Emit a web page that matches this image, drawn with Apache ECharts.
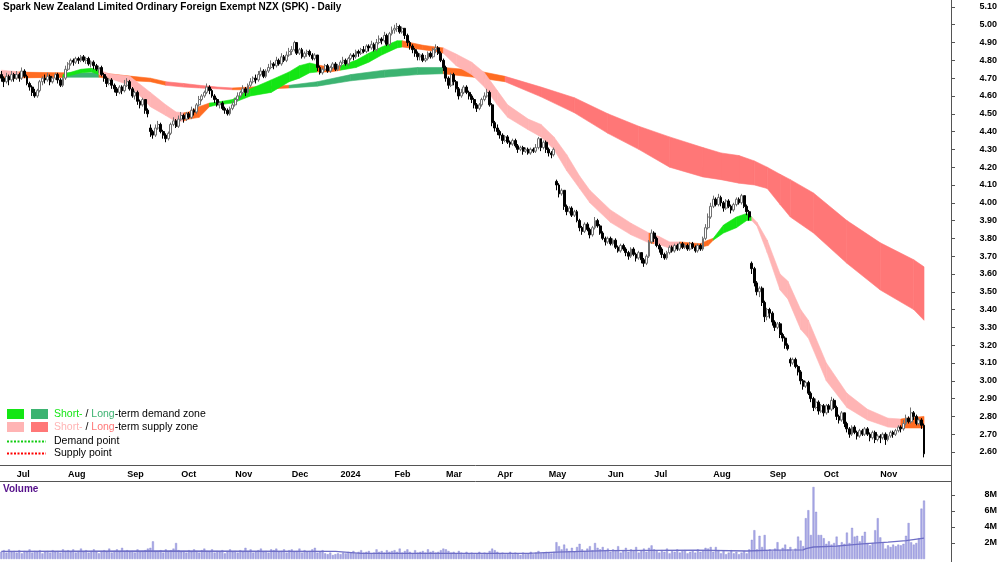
<!DOCTYPE html>
<html>
<head>
<meta charset="utf-8">
<title>Spark New Zealand (SPK) - Daily</title>
<script src="https://cdn.jsdelivr.net/npm/echarts@6/dist/echarts.min.js"></script>
<style>
  html, body { margin: 0; padding: 0; background: #fff; }
  #chart { width: 1000px; height: 562px; }
</style>
</head>
<body>
<div id="chart"></div>
<script>
// trading days (weekdays minus NZX holidays)
const firstDay = '2023-06-23';
const lastDay = '2024-11-26';
const holidays = ['2023-07-14', '2023-10-23', '2023-12-25', '2023-12-26', '2024-01-01', '2024-01-02',
  '2024-02-06', '2024-03-29', '2024-04-01', '2024-04-25', '2024-06-03', '2024-06-28', '2024-10-28'];
const padDays = 10; // empty room right of the last candle
const monthNames = ['2024', 'Feb', 'Mar', 'Apr', 'May', 'Jun', 'Jul', 'Aug', 'Sep', 'Oct', 'Nov', 'Dec'];

const priceTicks = [2.6, 2.7, 2.8, 2.9, 3.0, 3.1, 3.2, 3.3, 3.4, 3.5, 3.6, 3.7, 3.8, 3.9,
  4.0, 4.1, 4.2, 4.3, 4.4, 4.5, 4.6, 4.7, 4.8, 4.9, 5.0, 5.1];
const volumeTicks = [2, 4, 6, 8];

// candles, [open, close, low, high]
const jun23 = [[4.72,4.70,4.68,4.74],[4.70,4.68,4.65,4.71],[4.68,4.71,4.67,4.73],[4.71,4.69,4.66,4.72],[4.69,4.72,4.68,4.74],[4.72,4.70,4.68,4.73]];
const jul23 = [[4.70,4.72,4.69,4.74],[4.72,4.70,4.68,4.73],[4.70,4.74,4.69,4.76],[4.74,4.71,4.70,4.75],[4.71,4.67,4.66,4.72],
  [4.67,4.65,4.63,4.68],[4.65,4.62,4.60,4.66],[4.62,4.60,4.59,4.64],[4.60,4.63,4.59,4.64],[4.63,4.68,4.62,4.69],
  [4.68,4.70,4.66,4.71],[4.70,4.69,4.67,4.72],[4.69,4.71,4.68,4.73],[4.71,4.68,4.66,4.72],[4.68,4.70,4.67,4.71],
  [4.70,4.72,4.69,4.73],[4.72,4.69,4.67,4.73],[4.69,4.66,4.65,4.70],[4.66,4.70,4.65,4.71],[4.70,4.75,4.69,4.77]];
const aug23 = [[4.75,4.78,4.74,4.79],[4.78,4.80,4.77,4.81],[4.80,4.79,4.77,4.81],[4.79,4.81,4.78,4.82],[4.81,4.80,4.78,4.82],
  [4.80,4.82,4.79,4.83],[4.82,4.80,4.79,4.83],[4.80,4.81,4.78,4.82],[4.81,4.78,4.77,4.82],[4.78,4.79,4.76,4.80],
  [4.79,4.77,4.75,4.80],[4.77,4.75,4.74,4.78],[4.75,4.76,4.73,4.77],[4.76,4.72,4.71,4.77],[4.72,4.70,4.68,4.73],
  [4.70,4.67,4.65,4.71],[4.67,4.69,4.66,4.70],[4.69,4.66,4.64,4.70],[4.66,4.64,4.62,4.67],[4.64,4.62,4.60,4.65],
  [4.62,4.65,4.61,4.66],[4.65,4.63,4.61,4.66],[4.63,4.66,4.62,4.69]];
const sep23 = [[4.66,4.68,4.65,4.70],[4.68,4.64,4.63,4.69],[4.64,4.60,4.59,4.65],[4.60,4.62,4.58,4.63],[4.62,4.57,4.55,4.63],
  [4.57,4.55,4.53,4.58],[4.55,4.58,4.54,4.59],[4.58,4.52,4.50,4.58],[4.52,4.50,4.48,4.53],[4.42,4.40,4.37,4.44],
  [4.40,4.38,4.36,4.41],[4.38,4.42,4.37,4.44],[4.42,4.44,4.41,4.46],[4.44,4.40,4.39,4.45],[4.40,4.38,4.36,4.41],
  [4.38,4.36,4.34,4.39],[4.36,4.39,4.35,4.40],[4.39,4.44,4.38,4.45],[4.44,4.46,4.43,4.48],[4.46,4.43,4.42,4.47],
  [4.43,4.47,4.42,4.49]];
const oct23 = [[4.47,4.49,4.46,4.51],[4.49,4.47,4.45,4.50],[4.47,4.50,4.46,4.51],[4.50,4.48,4.47,4.51],[4.48,4.52,4.47,4.54],
  [4.52,4.51,4.49,4.53],[4.51,4.55,4.50,4.56],[4.55,4.58,4.54,4.60],[4.58,4.60,4.57,4.61],[4.60,4.62,4.59,4.63],
  [4.62,4.65,4.61,4.67],[4.65,4.63,4.61,4.66],[4.63,4.60,4.59,4.64],[4.60,4.58,4.56,4.61],[4.58,4.55,4.54,4.59],
  [4.55,4.56,4.53,4.57],[4.56,4.53,4.52,4.57],[4.53,4.52,4.50,4.54],[4.52,4.50,4.49,4.53],[4.50,4.53,4.49,4.54],
  [4.53,4.55,4.52,4.57]];
const nov23 = [[4.55,4.58,4.54,4.59],[4.58,4.60,4.57,4.62],[4.60,4.62,4.59,4.63],[4.62,4.64,4.61,4.66],[4.64,4.62,4.60,4.65],
  [4.62,4.66,4.61,4.67],[4.66,4.68,4.65,4.70],[4.68,4.70,4.67,4.71],[4.70,4.69,4.67,4.72],[4.69,4.72,4.68,4.74],
  [4.72,4.74,4.71,4.76],[4.74,4.71,4.70,4.75],[4.71,4.74,4.70,4.75],[4.74,4.76,4.73,4.78],[4.76,4.78,4.75,4.80],
  [4.78,4.77,4.75,4.79],[4.77,4.80,4.76,4.82],[4.80,4.78,4.77,4.81],[4.78,4.82,4.77,4.84],[4.82,4.80,4.79,4.83],
  [4.80,4.83,4.79,4.85],[4.83,4.85,4.82,4.87]];
const dec23 = [[4.85,4.86,4.83,4.88],[4.86,4.90,4.85,4.91],[4.90,4.84,4.83,4.90],[4.84,4.86,4.83,4.87],[4.86,4.82,4.81,4.87],
  [4.82,4.84,4.81,4.85],[4.84,4.85,4.82,4.86],[4.85,4.83,4.82,4.86],[4.83,4.81,4.80,4.84],[4.81,4.83,4.80,4.84],
  [4.83,4.76,4.74,4.83],[4.76,4.73,4.72,4.77],[4.73,4.75,4.72,4.76],[4.75,4.77,4.74,4.78],[4.77,4.74,4.73,4.78],
  [4.74,4.76,4.73,4.77],[4.76,4.78,4.75,4.79],[4.78,4.75,4.74,4.79],[4.75,4.77,4.74,4.78]];
const jan24 = [[4.77,4.79,4.76,4.80],[4.79,4.80,4.78,4.82],[4.80,4.78,4.77,4.81],[4.78,4.81,4.77,4.82],[4.81,4.83,4.80,4.84],
  [4.83,4.82,4.80,4.84],[4.82,4.85,4.81,4.86],[4.85,4.84,4.82,4.86],[4.84,4.86,4.83,4.87],[4.86,4.85,4.84,4.88],
  [4.85,4.88,4.84,4.89],[4.88,4.87,4.85,4.89],[4.87,4.89,4.86,4.91],[4.89,4.86,4.85,4.90],[4.86,4.90,4.85,4.92],
  [4.90,4.92,4.89,4.94],[4.92,4.91,4.89,4.93],[4.91,4.94,4.90,4.96],[4.94,4.89,4.88,4.95],[4.89,4.95,4.88,4.96],
  [4.95,4.97,4.94,4.99]];
const feb24 = [[4.97,4.98,4.95,5.00],[4.98,4.99,4.96,5.01],[4.99,4.96,4.95,5.00],[4.96,4.98,4.95,4.99],[4.98,4.94,4.92,4.98],
  [4.94,4.90,4.88,4.95],[4.90,4.88,4.86,4.91],[4.88,4.86,4.84,4.89],[4.86,4.84,4.82,4.87],[4.84,4.82,4.80,4.85],
  [4.82,4.83,4.80,4.84],[4.83,4.80,4.79,4.84],[4.80,4.81,4.79,4.83],[4.81,4.84,4.80,4.85],[4.84,4.82,4.81,4.85],
  [4.82,4.86,4.81,4.87],[4.86,4.87,4.84,4.89],[4.87,4.84,4.83,4.88],[4.84,4.80,4.79,4.85],[4.80,4.76,4.74,4.81]];
const mar24 = [[4.76,4.70,4.68,4.77],[4.70,4.66,4.64,4.71],[4.66,4.72,4.65,4.73],[4.72,4.68,4.66,4.73],[4.68,4.64,4.62,4.69],
  [4.64,4.60,4.58,4.65],[4.60,4.62,4.59,4.64],[4.62,4.65,4.61,4.66],[4.65,4.62,4.61,4.66],[4.62,4.60,4.58,4.63],
  [4.60,4.58,4.56,4.61],[4.58,4.55,4.53,4.59],[4.55,4.53,4.51,4.56],[4.53,4.55,4.52,4.56],[4.55,4.58,4.54,4.59],
  [4.58,4.60,4.57,4.62],[4.60,4.62,4.59,4.64],[4.62,4.55,4.54,4.63],[4.55,4.45,4.43,4.56],[4.45,4.42,4.40,4.46]];
const apr24 = [[4.42,4.40,4.38,4.44],[4.40,4.38,4.36,4.41],[4.38,4.35,4.33,4.39],[4.35,4.37,4.34,4.38],[4.37,4.34,4.33,4.38],
  [4.34,4.33,4.31,4.35],[4.33,4.35,4.32,4.36],[4.35,4.32,4.31,4.36],[4.32,4.30,4.28,4.33],[4.30,4.31,4.29,4.32],
  [4.31,4.29,4.27,4.32],[4.29,4.30,4.28,4.31],[4.30,4.28,4.27,4.31],[4.28,4.30,4.27,4.31],[4.30,4.29,4.28,4.31],
  [4.29,4.31,4.28,4.33],[4.31,4.36,4.30,4.37],[4.36,4.31,4.29,4.36],[4.31,4.34,4.30,4.35],[4.34,4.30,4.28,4.35]];
const may24 = [[4.30,4.28,4.26,4.31],[4.28,4.27,4.25,4.29],[4.27,4.30,4.26,4.31],[4.12,4.10,4.07,4.13],[4.10,4.05,4.03,4.11],
  [4.05,4.07,4.04,4.08],[4.07,3.98,3.96,4.07],[3.98,3.95,3.93,3.99],[3.95,3.97,3.94,3.98],[3.97,3.93,3.92,3.98],
  [3.93,3.95,3.92,3.96],[3.95,3.90,3.89,3.96],[3.90,3.86,3.84,3.91],[3.86,3.84,3.82,3.87],[3.84,3.88,3.83,3.89],
  [3.88,3.85,3.84,3.89],[3.85,3.82,3.80,3.86],[3.82,3.86,3.81,3.87],[3.86,3.90,3.85,3.92],[3.90,3.87,3.86,3.91],
  [3.87,3.83,3.82,3.88],[3.83,3.80,3.79,3.84],[3.80,3.78,3.76,3.81]];
const jun24 = [[3.78,3.80,3.77,3.81],[3.80,3.77,3.76,3.81],[3.77,3.79,3.76,3.80],[3.79,3.75,3.74,3.80],[3.75,3.73,3.72,3.76],
  [3.73,3.76,3.72,3.77],[3.76,3.74,3.73,3.77],[3.74,3.72,3.70,3.75],[3.72,3.70,3.68,3.73],[3.70,3.74,3.69,3.75],
  [3.74,3.71,3.70,3.75],[3.71,3.69,3.67,3.72],[3.69,3.72,3.68,3.73],[3.72,3.68,3.66,3.72],[3.68,3.66,3.64,3.69],
  [3.66,3.70,3.65,3.71],[3.70,3.78,3.69,3.79],[3.78,3.83,3.77,3.85]];
const jul24 = [[3.83,3.80,3.78,3.84],[3.80,3.76,3.75,3.81],[3.76,3.74,3.72,3.77],[3.74,3.71,3.69,3.75],[3.71,3.69,3.68,3.72],
  [3.69,3.72,3.68,3.73],[3.72,3.75,3.71,3.76],[3.75,3.73,3.72,3.76],[3.73,3.76,3.72,3.77],[3.76,3.74,3.73,3.77],
  [3.74,3.77,3.73,3.78],[3.77,3.75,3.74,3.78],[3.75,3.76,3.74,3.77],[3.76,3.74,3.73,3.77],[3.74,3.77,3.73,3.78],
  [3.77,3.75,3.74,3.78],[3.75,3.73,3.72,3.76],[3.73,3.76,3.72,3.77],[3.76,3.74,3.73,3.77],[3.74,3.80,3.73,3.81],
  [3.80,3.86,3.79,3.88],[3.86,3.92,3.85,3.94],[3.92,3.98,3.91,4.00]];
const aug24 = [[3.98,4.02,3.97,4.04],[4.02,3.99,3.98,4.03],[3.99,4.03,3.98,4.05],[4.03,4.00,3.98,4.04],[4.00,3.97,3.95,4.01],
  [3.97,4.01,3.96,4.02],[4.01,3.98,3.97,4.02],[3.98,3.96,3.94,3.99],[3.96,3.99,3.95,4.00],[3.99,4.02,3.98,4.03],
  [4.02,4.00,3.99,4.03],[4.00,4.04,3.99,4.05],[4.04,3.98,3.97,4.04],[3.98,3.95,3.93,3.99],[3.95,3.92,3.90,3.96],
  [3.66,3.63,3.60,3.67],[3.63,3.55,3.53,3.64],[3.55,3.50,3.48,3.56],[3.50,3.52,3.47,3.53],[3.52,3.44,3.42,3.53],
  [3.44,3.36,3.33,3.45],[3.36,3.40,3.34,3.41]];
const sep24 = [[3.40,3.38,3.35,3.41],[3.38,3.33,3.31,3.39],[3.33,3.30,3.28,3.34],[3.30,3.32,3.29,3.33],[3.32,3.26,3.24,3.33],
  [3.26,3.24,3.22,3.27],[3.24,3.20,3.18,3.25],[3.20,3.18,3.17,3.21],[3.12,3.10,3.08,3.13],[3.10,3.12,3.09,3.13],
  [3.12,3.08,3.07,3.13],[3.08,3.05,3.03,3.09],[3.05,3.00,2.98,3.06],[3.00,2.97,2.95,3.01],[2.97,2.99,2.96,3.00],
  [2.99,2.93,2.92,3.00],[2.93,2.90,2.88,2.94],[2.90,2.85,2.83,2.91],[2.85,2.88,2.84,2.90],[2.88,2.83,2.81,2.89],
  [2.83,2.86,2.82,2.87]];
const oct24 = [[2.86,2.82,2.80,2.87],[2.82,2.86,2.81,2.87],[2.86,2.84,2.82,2.87],[2.84,2.89,2.83,2.91],[2.89,2.85,2.84,2.90],
  [2.85,2.80,2.78,2.86],[2.80,2.78,2.76,2.81],[2.78,2.82,2.77,2.83],[2.82,2.76,2.74,2.82],[2.76,2.73,2.71,2.77],
  [2.73,2.70,2.68,2.74],[2.70,2.74,2.69,2.75],[2.74,2.71,2.70,2.75],[2.71,2.69,2.67,2.72],[2.69,2.72,2.68,2.73],
  [2.72,2.70,2.69,2.73],[2.70,2.73,2.69,2.74],[2.73,2.70,2.69,2.74],[2.70,2.68,2.66,2.71],[2.68,2.71,2.67,2.72],
  [2.71,2.67,2.65,2.72],[2.67,2.69,2.66,2.70]];
const nov24 = [[2.69,2.68,2.65,2.70],[2.68,2.70,2.67,2.71],[2.70,2.67,2.64,2.71],[2.67,2.69,2.66,2.70],[2.69,2.71,2.68,2.72],
  [2.71,2.70,2.68,2.72],[2.70,2.72,2.69,2.73],[2.72,2.74,2.71,2.75],[2.74,2.73,2.71,2.75],[2.73,2.76,2.72,2.78],
  [2.76,2.79,2.75,2.81],[2.79,2.77,2.76,2.80],[2.77,2.82,2.76,2.85],[2.82,2.80,2.78,2.83],[2.80,2.76,2.75,2.81],
  [2.76,2.78,2.75,2.79],[2.78,2.75,2.73,2.79],[2.75,2.59,2.57,2.76]];

// daily volume, millions
const volJun23 = [0.9,1.1,0.8,1.2,0.9,1.0];
const volJul23 = [0.8,1.1,0.7,1.0,0.9,1.2,0.8,1.0,0.9,1.1,0.7,0.9,1.0,0.8,1.1,0.9,1.0,0.8,1.2,1.0];
const volAug23 = [1.1,0.9,1.2,0.8,1.0,1.3,0.9,1.1,0.8,1.0,1.2,0.9,0.7,1.0,1.1,0.9,1.3,0.8,1.0,1.2,0.9,1.4,1.0];
const volSep23 = [1.1,0.9,1.0,0.8,1.2,0.9,1.0,1.1,1.3,1.4,2.2,0.9,1.0,1.1,0.8,1.2,1.0,1.1,1.3,2.0,1.1];
const volOct23 = [0.9,1.0,0.8,1.1,0.9,1.2,1.0,0.8,1.1,1.3,1.0,0.9,1.2,0.8,1.0,0.9,1.1,0.7,1.0,1.2,0.9];
const volNov23 = [1.0,0.8,1.1,0.9,1.4,1.0,1.2,0.8,0.9,1.1,1.3,0.9,1.0,0.8,1.2,1.1,1.3,0.9,1.0,1.2,0.8,1.1];
const volDec23 = [1.2,0.9,1.0,1.3,0.8,1.1,0.9,1.0,1.2,1.4,0.8,0.9,1.1,0.7,0.6,0.8,0.5,0.6,0.7];
const volJan24 = [0.6,0.8,0.7,0.9,0.8,1.0,0.7,0.9,1.1,0.8,0.9,1.0,0.7,0.8,1.2,0.9,1.0,0.8,1.1,0.9,1.0];
const volFeb24 = [1.1,0.9,1.3,0.8,1.0,1.2,0.9,0.7,1.1,0.8,0.9,1.0,0.8,1.2,0.9,1.0,0.8,0.9,1.1,1.3];
const volMar24 = [1.2,1.0,0.8,0.9,0.7,1.0,0.8,0.6,0.9,0.7,0.8,0.6,0.7,0.9,0.6,0.8,0.7,1.0,1.3,1.1];
const volApr24 = [0.9,0.7,0.8,0.6,0.7,0.9,0.6,0.8,0.7,0.5,0.8,0.6,0.7,0.9,0.6,0.8,1.0,0.7,0.8,0.9];
const volMay24 = [0.8,0.7,0.9,2.1,1.6,1.2,1.8,1.3,1.0,1.4,0.9,1.5,1.9,1.2,1.0,1.3,1.6,1.1,2.0,1.4,1.2,1.5,1.1];
const volJun24 = [1.3,0.9,1.2,1.0,1.6,0.8,1.1,1.4,0.9,1.2,1.0,1.5,0.8,1.1,1.3,0.9,1.4,1.7];
const volJul24 = [1.2,1.0,0.8,1.1,0.9,1.3,0.7,1.0,0.9,1.2,0.8,1.0,1.1,0.7,0.9,1.0,0.8,1.2,0.9,1.1,1.4,1.3,1.5];
const volAug24 = [0.9,1.5,1.1,0.7,1.0,0.6,0.8,1.1,0.7,0.9,0.6,0.8,1.0,0.7,1.2,2.4,3.6,1.2,2.9,1.5,3.0,1.0];
const volSep24 = [1.2,1.0,1.3,2.1,1.1,1.4,1.8,1.2,1.5,1.0,1.3,2.8,2.3,1.6,5.1,6.1,3.0,9.0,5.9,3.0,3.0];
const volOct24 = [2.6,1.9,2.2,1.8,2.0,2.8,1.7,2.1,1.9,3.3,2.0,3.9,2.8,2.9,2.2,2.9,3.4,2.0,1.7,2.0,3.6,5.1];
const volNov24 = [2.7,2.0,1.3,1.7,1.5,1.8,1.6,1.8,1.7,1.9,2.9,4.5,2.1,1.8,2.0,2.6,6.3,7.3];

// volume average, [day index, millions]
const volAverage = [[0,0.95],[60,1.0],[130,0.95],[140,0.7],[205,0.7],[216,0.85],[236,1.05],[270,1.1],[290,1.0],
  [300,1.1],[312,1.15],[313,1.3],[316,1.5],[325,1.6],[335,1.9],[345,2.1],[352,2.3],[359,2.6]];

// zone bands, [day index, low, high, zone of the stretch that follows]
const shortBand = [[0,4.71,4.745,'SS'],[7,4.705,4.735,'N'],[24,4.705,4.72,'SD'],[31,4.73,4.75,'SD'],[35,4.735,4.755,'SD'],
  [38,4.72,4.745,'SS'],[42,4.70,4.725,'SS'],[50,4.66,4.71,'SS'],[58,4.54,4.62,'SS'],[64,4.49,4.55,'SS'],
  [68,4.455,4.51,'SS'],[71,4.46,4.505,'N'],[73,4.47,4.51,'N'],[77,4.48,4.54,'N'],[81,4.54,4.56,'SD'],
  [84,4.55,4.565,'SD'],[90,4.56,4.58,'SD'],[97,4.60,4.64,'SD'],[105,4.62,4.69,'SD'],[112,4.68,4.735,'SD'],
  [116,4.70,4.77,'SD'],[120,4.73,4.785,'SD'],[123,4.735,4.775,'N'],[128,4.735,4.76,'N'],[132,4.745,4.77,'SD'],
  [138,4.76,4.80,'SD'],[143,4.79,4.84,'SD'],[148,4.83,4.875,'SD'],[154,4.87,4.91,'SD'],[156,4.875,4.91,'N'],
  [159,4.87,4.90,'N'],[164,4.86,4.885,'N'],[169,4.85,4.875,'N'],[172,4.84,4.87,'SS'],[177,4.77,4.835,'SS'],
  [183,4.72,4.79,'SS'],[188,4.65,4.73,'SS'],[193,4.55,4.63,'SS'],[197,4.48,4.55,'SS'],[205,4.41,4.47,'SS'],
  [210,4.37,4.44,'SS'],[215,4.30,4.37,'SS'],[220,4.18,4.27,'SS'],[225,4.08,4.15,'SS'],[229,4.00,4.07,'SS'],
  [237,3.89,3.96,'SS'],[245,3.82,3.885,'SS'],[252,3.775,3.83,'N'],[254,3.77,3.82,'SS'],[256,3.765,3.81,'SS'],
  [260,3.745,3.78,'SS'],[264,3.75,3.78,'N'],[272,3.75,3.77,'N'],[275,3.76,3.79,'N'],[277,3.79,3.80,'SD'],
  [281,3.83,3.875,'SD'],[286,3.86,3.92,'SD'],[290,3.90,3.94,'SD'],[292,3.90,3.92,'SS'],[294,3.87,3.89,'SS'],
  [298,3.72,3.79,'SS'],[303,3.51,3.60,'SS'],[306,3.46,3.56,'SS'],[311,3.29,3.40,'SS'],[314,3.24,3.34,'SS'],
  [321,3.00,3.10,'SS'],[329,2.85,2.93,'SS'],[337,2.78,2.84,'SS'],[345,2.74,2.79,'SS'],[350,2.735,2.785,'N'],
  [352,2.735,2.79,'N'],[359,2.735,2.80,'N']];
const longBand = [[0,4.70,4.735,'N'],[25,4.705,4.73,'LD'],[38,4.705,4.73,'N'],[51,4.685,4.71,'N'],[58,4.68,4.70,'N'],
  [64,4.66,4.68,'LS'],[71,4.65,4.67,'LS'],[77,4.645,4.66,'LS'],[84,4.64,4.65,'LS'],[90,4.635,4.645,'N'],
  [97,4.635,4.65,'N'],[112,4.645,4.66,'LD'],[123,4.655,4.68,'LD'],[136,4.685,4.72,'LD'],[149,4.705,4.745,'LD'],
  [162,4.72,4.76,'LD'],[172,4.725,4.76,'N'],[184,4.705,4.745,'N'],[196,4.68,4.71,'LS'],[210,4.595,4.65,'LS'],
  [223,4.505,4.59,'LS'],[236,4.39,4.50,'LS'],[248,4.30,4.43,'LS'],[260,4.20,4.37,'LS'],[273,4.145,4.31,'LS'],
  [280,4.13,4.28,'LS'],[287,4.11,4.265,'LS'],[293,4.10,4.235,'LS'],[298,4.08,4.20,'LS'],[303,3.99,4.16,'LS'],
  [307,3.92,4.13,'LS'],[316,3.83,4.055,'LS'],[329,3.66,3.90,'LS'],[342,3.51,3.775,'LS'],[355,3.40,3.68,'LS'],
  [359,3.34,3.64,'LS']];

const zoneColors = { SD: '#14e614', LD: '#3cb371', SS: '#ffb4b4', LS: '#ff7777', N: '#ff6c22' };

// ---- build the category axis ----
const holidaySet = new Set(holidays);
const dates = [];
for (let d = new Date(firstDay + 'T00:00:00Z'); d <= new Date(lastDay + 'T00:00:00Z'); d.setUTCDate(d.getUTCDate() + 1)) {
  const wd = d.getUTCDay();
  const s = d.toISOString().slice(0, 10);
  if (wd !== 0 && wd !== 6 && !holidaySet.has(s)) dates.push(s);
}
const categories = dates.slice();
for (let i = 0; i < padDays; i++) categories.push('pad' + i);

const monthStart = new Set();
for (let i = 1; i < dates.length; i++) {
  if (dates[i].slice(5, 7) !== dates[i - 1].slice(5, 7)) monthStart.add(i);
}
const isMonthStart = (index) => monthStart.has(index);

const candles = [].concat(jun23, jul23, aug23, sep23, oct23, nov23, dec23, jan24, feb24, mar24, apr24,
  may24, jun24, jul24, aug24, sep24, oct24, nov24);
const volumes = [].concat(volJun23, volJul23, volAug23, volSep23, volOct23, volNov23, volDec23, volJan24,
  volFeb24, volMar24, volApr24, volMay24, volJun24, volJul24, volAug24, volSep24, volOct24, volNov24);

function bandSeries(knots, name) {
  const segs = [], colors = [];
  for (let k = 0; k < knots.length - 1; k++) {
    const a = knots[k], b = knots[k + 1];
    segs.push([a[0], a[1], a[2], b[0], b[1], b[2]]);
    colors.push(zoneColors[a[3]]);
  }
  return {
    name: name,
    type: 'custom',
    xAxisIndex: 0,
    yAxisIndex: 0,
    silent: true,
    clip: true,
    encode: { x: [0, 3], y: [1, 2, 4, 5] },
    data: segs,
    renderItem: function (params, api) {
      const pts = [
        api.coord([api.value(0), api.value(2)]),
        api.coord([api.value(3), api.value(5)]),
        api.coord([api.value(3), api.value(4)]),
        api.coord([api.value(0), api.value(1)])
      ];
      const c = colors[params.dataIndex];
      return { type: 'polygon', shape: { points: pts }, style: { fill: c, stroke: c, lineWidth: 0.6 } };
    }
  };
}

const font = '"Liberation Sans", Arial, sans-serif';
const axisColor = '#555';

const chart = echarts.init(document.getElementById('chart'));
chart.setOption({
  animation: false,
  backgroundColor: '#fff',
  grid: [
    { left: 0, right: 49, top: 0, height: 465 },
    { left: 0, right: 49, top: 482, height: 77 }
  ],
  xAxis: [
    {
      type: 'category', gridIndex: 0, data: categories, boundaryGap: true,
      axisLine: { lineStyle: { color: axisColor } },
      axisTick: { interval: isMonthStart, length: 5, lineStyle: { color: axisColor } },
      axisLabel: {
        interval: isMonthStart, align: 'left', margin: 5,
        fontFamily: font, fontSize: 9, fontWeight: 'bold', color: '#000',
        formatter: (v) => monthNames[parseInt(v.slice(5, 7), 10) - 1]
      },
      splitLine: { show: false }
    },
    { type: 'category', gridIndex: 1, data: categories, boundaryGap: true, show: false }
  ],
  yAxis: [
    {
      type: 'value', gridIndex: 0, position: 'right', min: 2.527, max: 5.139,
      axisLine: { show: true, lineStyle: { color: axisColor } },
      axisTick: { show: true, length: 4, customValues: priceTicks, lineStyle: { color: axisColor } },
      axisLabel: {
        customValues: priceTicks, align: 'right', margin: 46,
        fontFamily: font, fontSize: 9, fontWeight: 'bold', color: '#000',
        formatter: (v) => v.toFixed(2)
      },
      splitLine: { show: false }
    },
    {
      type: 'value', gridIndex: 1, position: 'right', min: 0, max: 9.625,
      axisLine: { show: true, lineStyle: { color: axisColor } },
      axisTick: { show: true, length: 4, customValues: volumeTicks, lineStyle: { color: axisColor } },
      axisLabel: {
        customValues: volumeTicks, align: 'right', margin: 46,
        fontFamily: font, fontSize: 9, fontWeight: 'bold', color: '#000',
        formatter: (v) => v + 'M'
      },
      splitLine: { show: false }
    }
  ],
  series: [
    bandSeries(longBand, 'long'),
    bandSeries(shortBand, 'short'),
    {
      type: 'candlestick', xAxisIndex: 0, yAxisIndex: 0, data: candles, barWidth: 2.4,
      silent: true,
      itemStyle: { color: '#fff', color0: '#000', borderColor: '#707070', borderColor0: '#000', borderWidth: 1 }
    },
    {
      type: 'bar', xAxisIndex: 1, yAxisIndex: 1, data: volumes, barWidth: 2, silent: true,
      itemStyle: { color: '#a9a9e6', borderColor: '#8585d2', borderWidth: 0.4 }
    },
    {
      type: 'line', xAxisIndex: 1, yAxisIndex: 1, data: volAverage, showSymbol: false, silent: true,
      lineStyle: { color: '#6e6ec6', width: 1.3 }
    }
  ],
  graphic: [
    { type: 'line', shape: { x1: 951.5, y1: 0, x2: 951.5, y2: 562 }, style: { stroke: axisColor, lineWidth: 1 } },
    { type: 'line', shape: { x1: 0, y1: 481.5, x2: 951, y2: 481.5 }, style: { stroke: axisColor, lineWidth: 1 } },
    { type: 'text', left: 3, top: 2, style: { text: 'Spark New Zealand Limited Ordinary Foreign Exempt NZX (SPK) - Daily',
      font: 'bold 10px ' + font, fill: '#000' } },
    { type: 'text', left: 3, top: 484, style: { text: 'Volume', font: 'bold 10px ' + font, fill: '#55108a' } },
    { type: 'rect', shape: { x: 7, y: 409, width: 17, height: 10 }, style: { fill: zoneColors.SD } },
    { type: 'rect', shape: { x: 31, y: 409, width: 17, height: 10 }, style: { fill: zoneColors.LD } },
    { type: 'rect', shape: { x: 7, y: 422, width: 17, height: 10 }, style: { fill: zoneColors.SS } },
    { type: 'rect', shape: { x: 31, y: 422, width: 17, height: 10 }, style: { fill: zoneColors.LS } },
    { type: 'text', x: 54, y: 414, style: { text: '{a|Short-} / {b|Long}-term demand zone', font: '10.5px ' + font,
      fill: '#000', verticalAlign: 'middle', rich: { a: { fill: '#14e614', font: '10.5px ' + font }, b: { fill: '#3cb371', font: '10.5px ' + font } } } },
    { type: 'text', x: 54, y: 427, style: { text: '{a|Short-} / {b|Long}-term supply zone', font: '10.5px ' + font,
      fill: '#000', verticalAlign: 'middle', rich: { a: { fill: '#ffb4b4', font: '10.5px ' + font }, b: { fill: '#ff7777', font: '10.5px ' + font } } } },
    { type: 'line', shape: { x1: 7, y1: 441.5, x2: 46, y2: 441.5 }, style: { stroke: '#11cc11', lineWidth: 2, lineDash: [2, 1.5] } },
    { type: 'line', shape: { x1: 7, y1: 453.5, x2: 46, y2: 453.5 }, style: { stroke: '#ff0000', lineWidth: 2, lineDash: [2, 1.5] } },
    { type: 'text', x: 54, y: 441, style: { text: 'Demand point', font: '10.5px ' + font, fill: '#000', verticalAlign: 'middle' } },
    { type: 'text', x: 54, y: 453, style: { text: 'Supply point', font: '10.5px ' + font, fill: '#000', verticalAlign: 'middle' } }
  ]
});
</script>
</body>
</html>
